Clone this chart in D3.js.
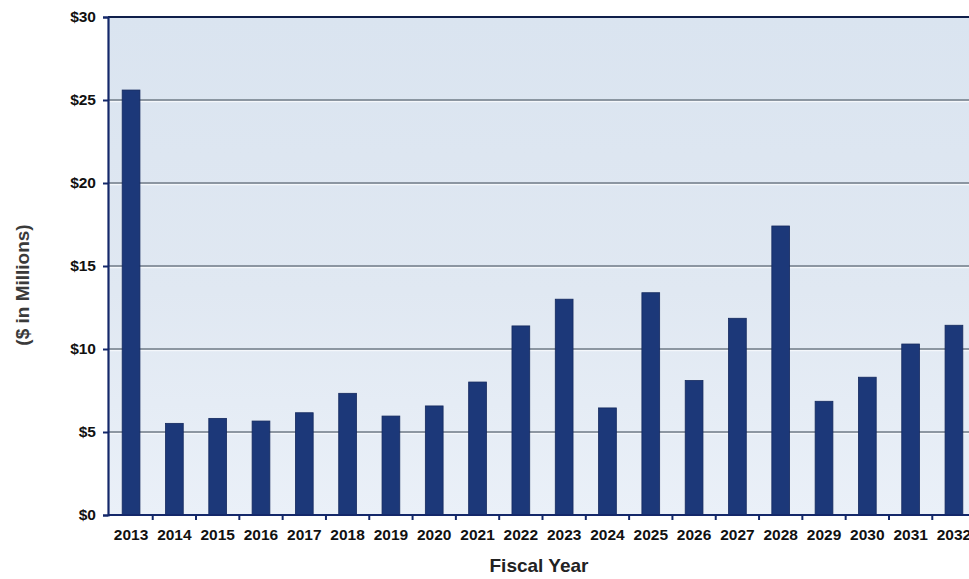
<!DOCTYPE html>
<html>
<head>
<meta charset="utf-8">
<script src="https://cdn.jsdelivr.net/npm/d3@7"></script>
<style>
  html, body { margin: 0; padding: 0; background: #ffffff; overflow: hidden; }
  svg { display: block; }
  text { font-family: "Liberation Sans", Arial, sans-serif; font-weight: bold; }
</style>
</head>
<body>
<svg id="chart" width="969" height="579"></svg>
<script>
const years = ["2013","2014","2015","2016","2017","2018","2019","2020","2021","2022",
               "2023","2024","2025","2026","2027","2028","2029","2030","2031","2032"];
const values = [25.6, 5.52, 5.82, 5.66, 6.16, 7.33, 5.96, 6.57, 8.01, 11.39,
                13.0, 6.45, 13.39, 8.1, 11.85, 17.41, 6.85, 8.3, 10.3, 11.43];
const yTicks = [0, 5, 10, 15, 20, 25, 30];
const yTickLabels = ["$0", "$5", "$10", "$15", "$20", "$25", "$30"];
const xTitle = "Fiscal Year";
const yTitle = "($ in Millions)";

(function () {
const svg = d3.select("#chart");
const pLeft = 108, pTop = 17, pBottom = 515;
const bandStart = 109.4, bandW = 43.31;
const pRight = bandStart + bandW * years.length;

const x = d3.scaleBand().domain(years).range([bandStart, pRight]).paddingInner(0.59).paddingOuter(0.295);
const y = d3.scaleLinear().domain([0, 30]).range([pBottom, pTop]);

const defs = svg.append("defs");
const grad = defs.append("linearGradient").attr("id", "bg").attr("x1", 0).attr("y1", 0).attr("x2", 0).attr("y2", 1);
grad.append("stop").attr("offset", "0%").attr("stop-color", "#dae4f0");
grad.append("stop").attr("offset", "55%").attr("stop-color", "#e0e8f2");
grad.append("stop").attr("offset", "100%").attr("stop-color", "#eaf0f8");

svg.append("rect").attr("x", pLeft).attr("y", pTop).attr("width", pRight - pLeft + 10).attr("height", pBottom - pTop)
  .attr("fill", "url(#bg)");

// gridlines
const grid = svg.append("g");
yTicks.filter(t => t > 0 && t < 30).forEach(t => {
  grid.append("line").attr("x1", pLeft).attr("x2", pRight + 10).attr("y1", y(t) + 1.5).attr("y2", y(t) + 1.5)
    .attr("stroke", "#f4f7fb").attr("stroke-width", 1.5);
  grid.append("line").attr("x1", pLeft).attr("x2", pRight + 10).attr("y1", y(t)).attr("y2", y(t))
    .attr("stroke", "#6f7a86").attr("stroke-width", 1.4);
});

// bars
svg.append("g").selectAll("rect").data(years).join("rect")
  .attr("x", d => x(d))
  .attr("width", x.bandwidth())
  .attr("y", (d, i) => y(values[i]))
  .attr("height", (d, i) => y(0) - y(values[i]))
  .attr("fill", "#1c3879")
  .attr("stroke", "#14295e")
  .attr("stroke-width", 0.8);

// top border
svg.append("line").attr("x1", pLeft).attr("x2", pRight + 10).attr("y1", pTop).attr("y2", pTop)
  .attr("stroke", "#0f1f4a").attr("stroke-width", 2.2);

// y axis
const yAxis = d3.axisLeft(y).tickValues(yTicks).tickFormat((d, i) => yTickLabels[i]).tickSize(5).tickPadding(7);
const gy = svg.append("g").attr("transform", `translate(${pLeft},0)`).call(yAxis);
gy.select(".domain").attr("stroke", "#14286a").attr("stroke-width", 2.2);
gy.selectAll(".tick line").attr("stroke", "#14286a").attr("stroke-width", 2);
gy.selectAll(".tick text").attr("font-size", 15.5).attr("fill", "#111").attr("font-family", "Liberation Sans, Arial, sans-serif").attr("font-weight", "bold");

// x axis
const xAxis = d3.axisBottom(x).tickSize(0).tickPadding(14);
const gx = svg.append("g").attr("transform", `translate(0,${pBottom})`).call(xAxis);
gx.select(".domain").attr("stroke", "#14286a").attr("stroke-width", 2.2).attr("d", `M${pLeft},0H${pRight + 10}`);
gx.selectAll(".tick text").attr("font-size", 15.5).attr("fill", "#111").attr("font-family", "Liberation Sans, Arial, sans-serif").attr("font-weight", "bold");
gx.append("g").selectAll("line").data(years.slice(1)).join("line")
  .attr("x1", d => x(d) - x.step() * x.paddingInner() / 2)
  .attr("x2", d => x(d) - x.step() * x.paddingInner() / 2)
  .attr("y1", 0).attr("y2", 5)
  .attr("stroke", "#14286a").attr("stroke-width", 2);

// titles
svg.append("text").attr("x", 539).attr("y", 572).attr("text-anchor", "middle")
  .attr("font-size", 19).attr("fill", "#222").text(xTitle);
svg.append("text").attr("transform", "translate(29,285) rotate(-90)").attr("text-anchor", "middle")
  .attr("font-size", 19).attr("fill", "#3a3a3a").text(yTitle);
})();
</script>
</body>
</html>
